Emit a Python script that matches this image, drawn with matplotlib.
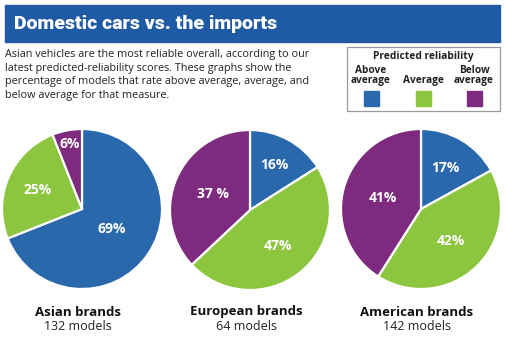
import numpy as np
import matplotlib.pyplot as plt
from matplotlib.patches import Rectangle

# share of models in each predicted-reliability band, clockwise from 12 o'clock
groups = ["Asian brands", "European brands", "American brands"]
model_counts = ["132 models", "64 models", "142 models"]
above = [69, 16, 17]
average = [25, 47, 42]
below = [6, 37, 41]
pct_text = [["69%", "25%", "6%"], ["16%", "47%", "37 %"], ["17%", "42%", "41%"]]
bands = ["Above\naverage", "Average", "Below\naverage"]

blue = "#2a68ac"
green = "#8cc63f"
purple = "#7d2a7f"
header = "#1f5aa5"
colors = [blue, green, purple]

W, H = 505, 338
fig = plt.figure(figsize=(W / 100, H / 100), dpi=100)
fig.patch.set_facecolor("white")

# full-figure axes in pixel units for header, text and legend
bg = fig.add_axes([0, 0, 1, 1])
bg.set_xlim(0, W)
bg.set_ylim(H, 0)
bg.axis("off")

bg.add_patch(Rectangle((5, 5), 495, 37, color=header, zorder=1))
bg.text(14, 24, "Domestic cars vs. the imports", color="white", fontsize=14,
        fontweight="heavy", family="Roboto",
        va="center", ha="left", zorder=2)

intro = ("Asian vehicles are the most reliable overall, according to our\n"
         "latest predicted-reliability scores. These graphs show the\n"
         "percentage of models that rate above average, average, and\n"
         "below average for that measure.")
bg.text(5, 49, intro, fontsize=7.8, family="Open Sans", color="#222222",
        va="top", ha="left", linespacing=1.32)

# legend box
bg.add_patch(Rectangle((347, 47), 153, 64, fill=False, edgecolor="#9a9a9a", lw=0.9))
bg.text(423, 57, "Predicted reliability", fontsize=7.4, fontweight="bold",
        family="Open Sans", ha="center", va="center", color="#222222")
key_x = [371, 423, 474]
for x, lab, c in zip(key_x, bands, colors):
    bg.text(x, 86.5, lab, fontsize=7.3, fontweight="bold", family="Open Sans",
            ha="center", va="bottom", linespacing=0.95, color="#222222")
    bg.add_patch(Rectangle((x - 7.5, 91), 15, 15, color=c))

# pies: centre (px), radius (px) and label distance per wedge
centers = [(82, 209), (250, 210), (421, 209)]
radius = 80
top_clip = 132
label_dist = [[0.45, 0.6, 0.83], [0.64, 0.57, 0.5], [0.6, 0.55, 0.5]]

for i, (cx, cy) in enumerate(centers):
    pad = 83
    left = (cx - pad) / W
    bottom = 1 - (cy + pad) / H
    ax = fig.add_axes([left, bottom, 2 * pad / W, (cy + pad - top_clip) / H])
    vals = [above[i], average[i], below[i]]
    wedges, _ = ax.pie(vals, colors=colors, startangle=90, counterclock=False,
                       radius=1, wedgeprops=dict(edgecolor="white", linewidth=1.6))
    ax.set_aspect("auto")
    ax.set_xlim(-pad / radius, pad / radius)
    ax.set_ylim(-pad / radius, (cy - top_clip) / radius)
    ax.axis("off")
    for w, txt, d in zip(wedges, pct_text[i], label_dist[i]):
        mid = np.deg2rad((w.theta1 + w.theta2) / 2)
        ax.text(d * np.cos(mid), d * np.sin(mid), txt, color="white", fontsize=10,
                fontweight="bold", family="Open Sans", ha="center", va="center")

    bg.text(cx - 4, 312, groups[i], fontsize=9.5, fontweight="bold",
            family="Open Sans", ha="center", va="center", color="#111111")
    bg.text(cx - 4, 327, model_counts[i], fontsize=9, family="Open Sans",
            ha="center", va="center", color="#222222")

fig.savefig("out.png", dpi=100, facecolor="white")
